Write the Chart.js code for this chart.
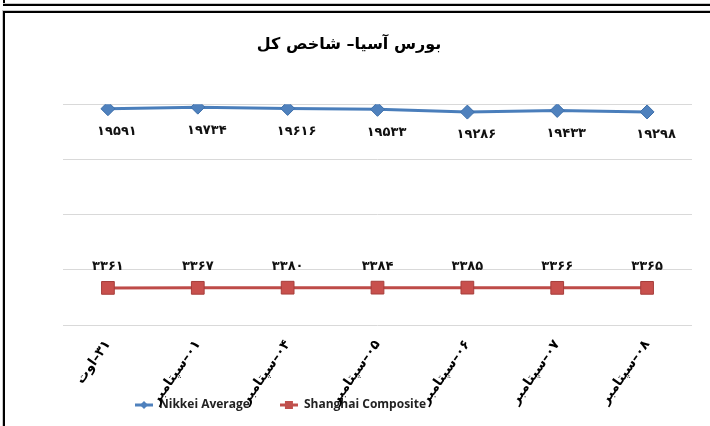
<!DOCTYPE html>
<html lang="fa">
<head>
  <meta charset="UTF-8" />
  <title>بورس آسیا</title>
  <style>
    html, body { margin: 0; padding: 0; background: #fff; }
    body { width: 710px; height: 426px; position: relative; overflow: hidden; }
    .topline { position: absolute; left: 3px; top: 4px; right: 0; height: 2px; background: #000; box-shadow: 0 -1px 0 #c8c8c8; }
    .topline-side { position: absolute; left: 3px; top: 0; width: 2px; height: 6px; background: #000; }
    .frame { position: absolute; left: 3px; top: 11px; right: -10px; bottom: -10px;
             border-top: 2px solid #000; border-left: 2px solid #000; box-shadow: -1px -1px 0 #c8c8c8; }
    #chart { position: absolute; left: 6px; top: 14px; }
  </style>
</head>
<body>
  <div class="topline-side"></div>
  <div class="topline"></div>
  <div class="frame"></div>
  <canvas id="chart" dir="rtl" width="704" height="412" style="width:704px;height:412px;"></canvas>

  <script src="https://cdn.jsdelivr.net/npm/chart.js"></script>
  <script>
    const dates = ['۳۱–اوت', '۰۱–سپتامبر', '۰۴–سپتامبر', '۰۵–سپتامبر', '۰۶–سپتامبر', '۰۷–سپتامبر', '۰۸–سپتامبر'];
    const nikkei = [19591, 19734, 19616, 19533, 19286, 19433, 19298];
    const shanghai = [3361, 3367, 3380, 3384, 3385, 3366, 3365];
    const seriesNames = ['Nikkei Average', 'Shanghai Composite'];
    const chartTitle = 'بورس آسیا– شاخص کل';

    const faDigits = '۰۱۲۳۴۵۶۷۸۹';
    const toFa = n => String(n).replace(/\d/g, d => faDigits[d]);
    const arabicFont = '"DejaVu Sans", sans-serif';

    // small legend icons: line with marker in the middle
    function legendIcon(color, shape) {
      const c = document.createElement('canvas');
      c.width = 18; c.height = 12;
      const g = c.getContext('2d');
      g.strokeStyle = color; g.lineWidth = 3;
      g.beginPath(); g.moveTo(0, 6); g.lineTo(18, 6); g.stroke();
      g.fillStyle = color;
      g.beginPath();
      if (shape === 'diamond') {
        g.moveTo(9, 2); g.lineTo(13, 6); g.lineTo(9, 10); g.lineTo(5, 6);
      } else {
        g.rect(5, 2, 8, 8);
      }
      g.closePath(); g.fill();
      return c;
    }

    // value labels next to each point
    const valueLabels = {
      id: 'valueLabels',
      afterDatasetsDraw(chart) {
        const ctx = chart.ctx;
        const offsets = [{ dx: 9, dy: 23 }, { dx: 0, dy: -21 }];
        chart.data.datasets.forEach((ds, i) => {
          const meta = chart.getDatasetMeta(i);
          meta.data.forEach((pt, j) => {
            ctx.save();
            ctx.font = 'bold 13px ' + arabicFont;
            ctx.fillStyle = '#111';
            ctx.textAlign = 'center';
            ctx.textBaseline = 'middle';
            ctx.fillText(toFa(ds.data[j]), pt.x + offsets[i].dx, pt.y + offsets[i].dy);
            ctx.restore();
          });
        });
      }
    };

    // legend sits left of centre and overlaps the date labels, as in the original
    const layoutTweaks = {
      id: 'layoutTweaks',
      afterLayout(chart) {
        chart.legend.left = 99;
        chart.legend.top = 355;
        chart.scales.x.bottom = chart.height;
      }
    };

    new Chart(document.getElementById('chart'), {
      type: 'line',
      data: {
        labels: dates,
        datasets: [
          {
            label: seriesNames[0],
            data: nikkei,
            borderColor: '#4A7EBB',
            backgroundColor: '#4F81BD',
            pointBorderColor: '#3D6FAA',
            borderWidth: 3,
            pointStyle: 'rectRot',
            pointRadius: 7,
            pointBorderWidth: 1,
            tension: 0
          },
          {
            label: seriesNames[1],
            data: shanghai,
            borderColor: '#BE4B48',
            backgroundColor: '#C8504D',
            pointBorderColor: '#A63E3B',
            borderWidth: 3,
            pointStyle: 'rect',
            pointRadius: 9,
            pointBorderWidth: 1,
            tension: 0
          }
        ]
      },
      options: {
        responsive: false,
        animation: false,
        events: [],
        layout: { padding: { left: 0, right: 18, top: 0, bottom: 5 } },
        scales: {
          x: {
            offset: true,
            grid: { display: false, drawTicks: false, offset: true },
            border: { display: false },
            ticks: {
              autoSkip: false,
              maxRotation: 55,
              minRotation: 55,
              padding: 12,
              color: '#000',
              font: { family: arabicFont, size: 13.5, weight: 'bold' }
            },
            afterFit(scale) { scale.height = 44; }
          },
          y: {
            min: 0,
            max: 20000,
            ticks: { stepSize: 5000, display: false },
            grid: { color: '#D9D9D9', lineWidth: 1, drawTicks: false },
            border: { display: false },
            afterFit(scale) { scale.width = 57; }
          }
        },
        plugins: {
          title: {
            display: true,
            text: chartTitle,
            color: '#000',
            font: { family: arabicFont, size: 16, weight: 'bold' },
            padding: { top: 21, bottom: 50 }
          },
          legend: {
            position: 'bottom',
            align: 'start',
            labels: {
              usePointStyle: true,
              pointStyleWidth: 18,
              padding: 30,
              color: '#222',
              font: { family: '"Open Sans", sans-serif', size: 12, weight: 'bold' },
              generateLabels(chart) {
                const icons = [legendIcon('#4F81BD', 'diamond'), legendIcon('#C0504D', 'square')];
                return chart.data.datasets.map((ds, i) => ({
                  text: ds.label,
                  pointStyle: icons[i],
                  fillStyle: ds.backgroundColor,
                  strokeStyle: ds.borderColor,
                  lineWidth: 0,
                  fontColor: '#222',
                  datasetIndex: i
                }));
              }
            }
          },
          tooltip: { enabled: false }
        }
      },
      plugins: [valueLabels, layoutTweaks]
    });
  </script>
</body>
</html>
